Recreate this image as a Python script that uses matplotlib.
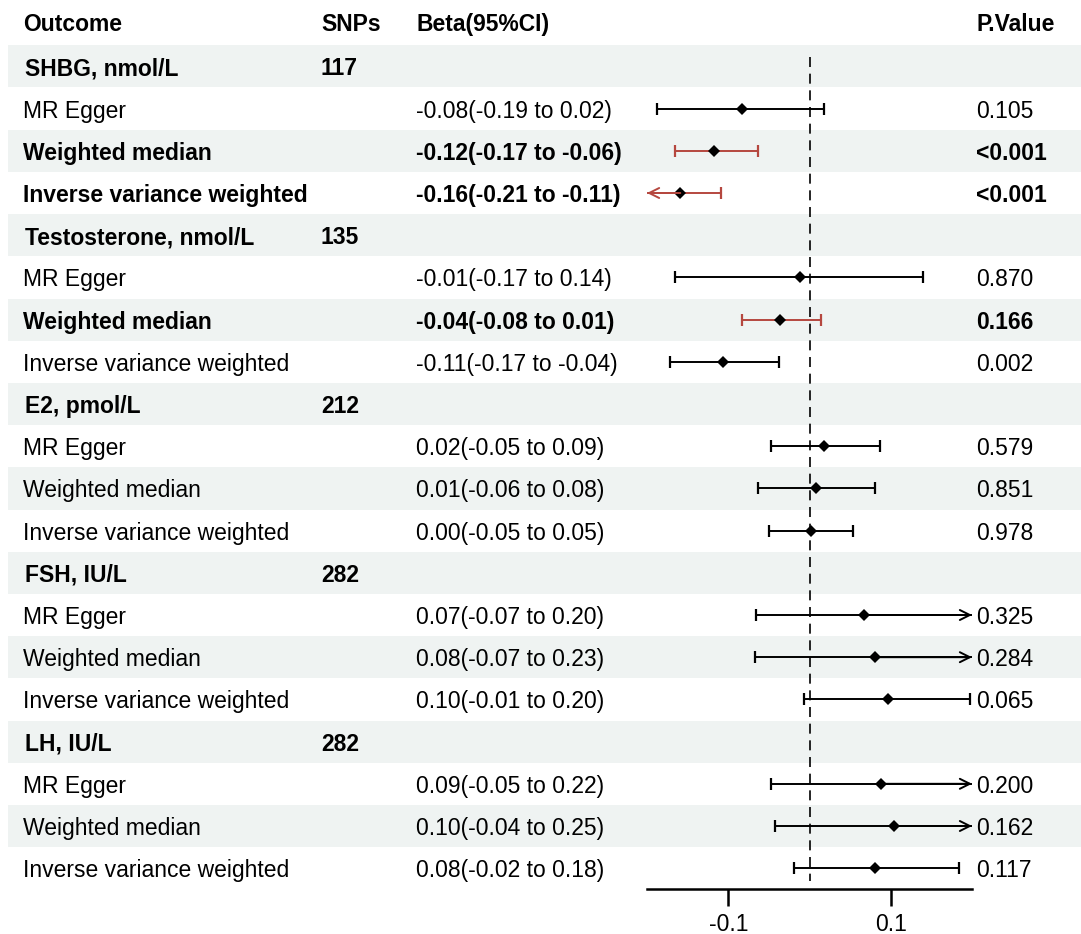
import numpy as np
import matplotlib
matplotlib.use("Agg")
import matplotlib.pyplot as plt

plt.rcParams['font.family'] = ['Liberation Sans', 'DejaVu Sans']
plt.rcParams['axes.unicode_minus'] = False

outcomes = ["SHBG, nmol/L", "Testosterone, nmol/L", "E2, pmol/L", "FSH, IU/L", "LH, IU/L"]
snps = [117, 135, 212, 282, 282]
methods = ["MR Egger", "Weighted median", "Inverse variance weighted"]

# per outcome x method
beta = [-0.083, -0.117, -0.159,
        -0.012, -0.036, -0.106,
        0.018, 0.008, 0.002,
        0.067, 0.081, 0.096,
        0.088, 0.104, 0.081]
lower = [-0.188, -0.166, -0.210,
         -0.166, -0.083, -0.172,
         -0.048, -0.063, -0.050,
         -0.066, -0.067, -0.007,
         -0.047, -0.042, -0.019]
upper = [0.018, -0.063, -0.109,
         0.140, 0.014, -0.038,
         0.087, 0.080, 0.053,
         0.204, 0.230, 0.198,
         0.220, 0.250, 0.184]
p_values = ["0.105", "<0.001", "<0.001",
            "0.870", "0.166", "0.002",
            "0.579", "0.851", "0.978",
            "0.325", "0.284", "0.065",
            "0.200", "0.162", "0.117"]
highlight = [False, True, True,
             False, True, False,
             False, False, False,
             False, False, False,
             False, False, False]

xlim = (-0.2, 0.2)
ticks = [-0.1, 0.1]

W, H = 1081, 934
row0, pitch = 66.4, 42.2   # pixel centre of first row, row height
fs = 16.5
red = "#b5473f"
band = "#eff3f2"


def px2row(y):
    return (y - row0) / pitch


fig = plt.figure(figsize=(W / 100, H / 100), dpi=100)
bg = fig.add_axes([0, 0, 1, 1])
bg.set_xlim(0, W)
bg.set_ylim(px2row(H), px2row(0))
bg.axis("off")

n_rows = len(outcomes) * (len(methods) + 1)
for r in range(0, n_rows, 2):
    bg.axhspan(r - 0.5, r + 0.5, xmin=8 / W, xmax=1, color=band, lw=0)

# column headers
for x, s in [(23, "Outcome"), (321, "SNPs"), (416, "Beta(95%CI)"), (976, "P.Value")]:
    bg.text(x, -1.0, s, fontsize=fs, fontweight="bold", va="center", ha="left")

rows_y = []
k = 0
r = 0
for g, name in enumerate(outcomes):
    bg.text(25, r + 0.06, name, fontsize=fs, fontweight="bold", va="center")
    bg.text(321, r + 0.06, str(snps[g]), fontsize=fs, fontweight="bold", va="center")
    r += 1
    for m in methods:
        w = "bold" if highlight[k] else "normal"
        lab = f"{beta[k]:.2f}({lower[k]:.2f} to {upper[k]:.2f})"
        bg.text(23, r + 0.06, m, fontsize=fs, fontweight=w, va="center")
        bg.text(416, r + 0.06, lab, fontsize=fs, fontweight=w, va="center")
        bg.text(976, r + 0.06, p_values[k], fontsize=fs, fontweight=w, va="center")
        rows_y.append(r)
        k += 1
        r += 1

# forest panel
x0, x1, yb = 647, 972, 889
ax = fig.add_axes([x0 / W, (H - yb) / H, (x1 - x0) / W, yb / H])
ax.set_xlim(*xlim)
ax.set_ylim(px2row(yb), px2row(0))
ax.patch.set_visible(False)
for s in ["top", "left", "right"]:
    ax.spines[s].set_visible(False)
ax.spines["bottom"].set_linewidth(1.8)
ax.set_yticks([])
ax.set_xticks(ticks)
ax.set_xticklabels([f"{t:g}" for t in ticks])
ax.tick_params(axis="x", length=12, width=1.8, labelsize=16.5, pad=5)

ax.vlines(0, px2row(57), px2row(881), colors="black", linestyles=(0, (6, 4)), lw=1.2)

for i, y in enumerate(rows_y):
    c = red if highlight[i] else "black"
    lo = max(lower[i], xlim[0])
    hi = min(upper[i], xlim[1])
    ax.hlines(y, lo, hi, colors=c, lw=1.4)
    for end, clipped in [(lo, lower[i] < xlim[0]), (hi, upper[i] > xlim[1])]:
        if clipped:
            ax.annotate("", xy=(end, y), xytext=(beta[i], y),
                        arrowprops=dict(arrowstyle="->", color=c, lw=1.4,
                                        mutation_scale=18, shrinkA=0, shrinkB=0))
        else:
            ax.plot(end, y, marker="|", color=c, ms=8, mew=1.6)
    ax.plot(beta[i], y, marker="D", color="black", ms=6, mew=0)

fig.savefig("out.png", dpi=100)
